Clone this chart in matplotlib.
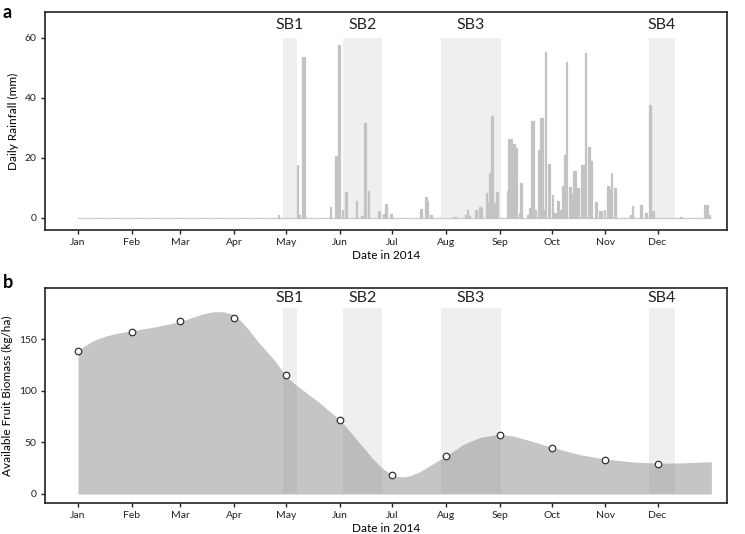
import numpy as np
import pandas as pd
import matplotlib
matplotlib.use("Agg")
import matplotlib.pyplot as plt
import matplotlib.dates as mdates

plt.rcParams['font.family'] = ['Lato', 'DejaVu Sans']

# Lluvia diaria (dia del año, 0 = 1 ene 2014) y mm
rain_day = [115, 126, 127, 129, 130, 145, 148, 150, 152, 154, 160, 163, 165, 167,
            173, 176, 177, 180, 197, 200, 201, 203, 216, 217, 223, 224, 225, 229,
            231, 232, 235, 236, 237, 238, 240, 241, 247, 248, 249, 250, 251, 252,
            254, 255, 259, 260, 261, 262, 263, 265, 266, 267, 268, 269, 271, 273,
            274, 275, 276, 278, 279, 280, 281, 283, 284, 285, 286, 287, 288, 290,
            291, 292, 294, 295, 298, 300, 301, 303, 305, 306, 307, 309, 318, 319,
            324, 327, 329, 330, 331, 347, 361, 362, 363]
rain_mm = [1.0, 17.5, 1.0, 53.5, 53.5, 3.5, 20.5, 57.5, 2.5, 8.6, 5.8, 0.5, 31.5, 9.0,
           2.2, 1.3, 4.6, 1.4, 3.0, 6.9, 5.6, 1.1, 0.3, 0.3, 1.1, 2.6, 0.5, 2.8,
           3.6, 3.3, 8.3, 5.3, 14.9, 33.9, 5.0, 8.8, 9.0, 26.3, 26.3, 24.5, 24.5, 23.4,
           1.7, 11.6, 1.1, 3.3, 32.3, 32.3, 2.8, 22.6, 33.4, 33.4, 2.8, 55.2, 17.9, 7.7,
           1.7, 1.7, 5.5, 2.8, 10.5, 20.8, 52.0, 10.2, 8.0, 15.5, 15.5, 10.0, 10.0, 17.7,
           17.7, 55.0, 23.7, 19.0, 5.2, 2.4, 2.4, 2.8, 10.7, 9.6, 15.1, 10.0, 0.9, 3.9,
           4.4, 1.7, 37.5, 2.2, 2.2, 0.3, 4.2, 4.2, 1.0]

# Curva suavizada de biomasa
curve_day = [0, 3, 6, 10, 16, 23, 31, 45, 59, 66, 72, 78, 84, 89, 93, 98, 103, 108,
             113, 120, 126, 132, 138, 143, 151, 156, 161, 166, 170, 175, 180, 184,
             188, 192, 197, 205, 213, 222, 232, 242, 251, 261, 274, 290, 305, 320,
             335, 351, 365]
curve_kg = [138.5, 142.5, 145.8, 149.3, 153, 155.8, 158, 162, 167, 171, 174.5, 176.5,
            176.5, 174, 169, 160, 149, 139.5, 130, 114, 105, 97.5, 90, 83, 71.6, 62,
            52, 42, 34, 25.5, 19.5, 17, 16.6, 18, 21.6, 29.7, 37.8, 48, 55, 57.8,
            56.1, 51.3, 44.8, 37.8, 33.6, 31, 29.7, 30.3, 31.3]

# Muestreos mensuales
month_kg = [138.4, 156.5, 167.8, 170.7, 115.2, 71.3, 18.7, 37.1, 57.1, 44.8, 32.9, 29.0]

# Periodos SB
sb_names = ["SB1", "SB2", "SB3", "SB4"]
sb_start = ["2014-04-29", "2014-06-03", "2014-07-29", "2014-11-26"]
sb_end = ["2014-05-07", "2014-06-25", "2014-09-02", "2014-12-11"]

inicio = pd.Timestamp("2014-01-01")
dias = pd.date_range("2014-01-01", "2014-12-31", freq="D")
lluvia = pd.Series(0.0, index=dias)
lluvia.iloc[rain_day] = rain_mm

curva_fechas = inicio + pd.to_timedelta(curve_day, unit="D")
meses = pd.date_range("2014-01-01", periods=12, freq="MS")

gris_barra = "#c3c3c5"
gris_sombra = "#efefef"

fig = plt.figure(figsize=(7.45, 5.34), dpi=100)
ax1 = fig.add_axes([0.0604, 0.5693, 0.9154, 0.4082])
ax2 = fig.add_axes([0.0604, 0.0581, 0.9154, 0.4026])

xmin = mdates.date2num(pd.Timestamp("2013-12-13"))
xmax = mdates.date2num(pd.Timestamp("2015-01-10"))

for ax, top, label_y in [(ax1, 60, 62), (ax2, 180, 183.5)]:
    for nombre, a, b in zip(sb_names, sb_start, sb_end):
        a = mdates.date2num(pd.Timestamp(a))
        b = mdates.date2num(pd.Timestamp(b))
        ax.fill_between([a, b], 0, top, color=gris_sombra, lw=0, zorder=0)
        ax.text((a + b) / 2, label_y, nombre, ha="center", va="bottom",
                fontsize=11.5, color="#222222")

# Panel a: lluvia
ax1.bar(mdates.date2num(lluvia.index), lluvia.values, width=1, align="edge",
        color=gris_barra, edgecolor=gris_barra, linewidth=0.9, zorder=2)
ax1.set_ylim(-4, 68.5)
ax1.set_yticks([0, 20, 40, 60])
ax1.set_ylabel("Daily Rainfall (mm)", fontsize=8.5)

# Panel b: biomasa
ax2.fill_between(mdates.date2num(curva_fechas), 0, curve_kg, color="#85868a",
                 alpha=0.48, lw=0, zorder=1)
ax2.scatter(mdates.date2num(meses), month_kg, s=22, facecolor="white",
            edgecolor="#333333", linewidth=0.9, zorder=3)
ax2.set_ylim(-8.7, 199.5)
ax2.set_yticks([0, 50, 100, 150])
ax2.set_ylabel("Available Fruit Biomass (kg/ha)", fontsize=8.5)

for ax in (ax1, ax2):
    ax.set_xlim(xmin, xmax)
    ax.set_xticks(mdates.date2num(meses))
    ax.xaxis.set_major_formatter(mdates.DateFormatter("%b"))
    ax.set_xlabel("Date in 2014", fontsize=8.5, labelpad=2)
    ax.tick_params(direction="out", length=3, width=1, labelsize=7.5,
                   colors="#222222", pad=3)
    for s in ax.spines.values():
        s.set_linewidth(1.2)
        s.set_color("#222222")

fig.text(0.004, 0.993, "a", fontsize=13, fontweight="bold", va="top")
fig.text(0.004, 0.487, "b", fontsize=13, fontweight="bold", va="top")

fig.savefig("out.png", dpi=100)
